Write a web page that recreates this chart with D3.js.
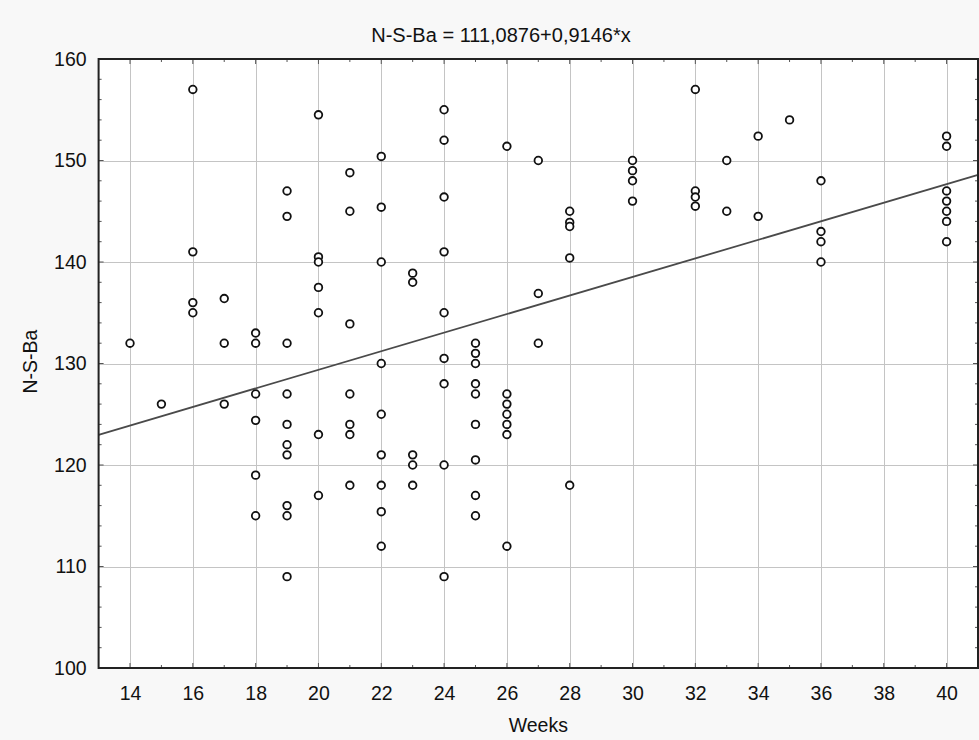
<!DOCTYPE html>
<html>
<head>
<meta charset="utf-8">
<script src="https://cdn.jsdelivr.net/npm/d3@7"></script>
<style>
  html, body { margin: 0; padding: 0; background: #f8f8f8; }
  svg { display: block; }
  text { font-family: "Liberation Sans", Arial, sans-serif; fill: #111; }
</style>
</head>
<body>
<svg id="chart" width="979" height="740"></svg>
<script>
// ---- data ----
const weeks = [
  14,
  15,
  16,16,16,16,
  17,17,17,
  18,18,18,18,18,18,
  19,19,19,19,19,19,19,19,19,19,
  20,20,20,20,20,20,20,
  21,21,21,21,21,21,21,
  22,22,22,22,22,22,22,22,22,
  23,23,23,23,23,
  24,24,24,24,24,24,24,24,24,
  25,25,25,25,25,25,25,25,25,
  26,26,26,26,26,26,26,
  27,27,27,
  28,28,28,28,28,
  30,30,30,30,
  32,32,32,32,
  33,33,
  34,34,
  35,
  36,36,36,36,
  40,40,40,40,40,40,40
];
const nsba = [
  132,
  126,
  157,141,136,135,
  136.4,132,126,
  133,132,127,124.4,119,115,
  147,144.5,132,127,124,122,121,116,115,109,
  154.5,140.5,140,137.5,135,123,117,
  148.8,145,133.9,127,124,123,118,
  150.4,145.4,140,130,125,121,118,115.4,112,
  138.9,138,121,120,118,
  155,152,146.4,141,135,130.5,128,120,109,
  132,131,130,128,127,124,120.5,117,115,
  151.4,127,126,125,124,123,112,
  150,136.9,132,
  145,143.9,143.5,140.4,118,
  150,149,148,146,
  157,147,146.4,145.5,
  150,145,
  152.4,144.5,
  154,
  148,143,142,140,
  152.4,151.4,147,146,145,144,142
];
const intercept = 111.0876;
const slope = 0.9146;
const titleText = "N-S-Ba = 111,0876+0,9146*x";
const xLabel = "Weeks";
const yLabel = "N-S-Ba";
const xDomain = [13, 41];
const yDomain = [100, 160];
const xTickValues = [14,16,18,20,22,24,26,28,30,32,34,36,38,40];
const yTickValues = [100,110,120,130,140,150,160];

// ---- layout ----
const svg = d3.select("#chart");
const L = 98.6, R = 978, T = 59, B = 668;
const x = d3.scaleLinear().domain(xDomain).range([L, R]);
const y = d3.scaleLinear().domain(yDomain).range([B, T]);

// plot background
svg.append("rect").attr("x", L).attr("y", T).attr("width", R - L).attr("height", B - T)
  .attr("fill", "#ffffff");

// grid lines
const grid = svg.append("g").attr("stroke", "#c4c4c4").attr("stroke-width", 1);
grid.selectAll("line.vx").data(xTickValues).join("line")
  .attr("x1", d => Math.round(x(d)) + 0.5).attr("x2", d => Math.round(x(d)) + 0.5)
  .attr("y1", T).attr("y2", B);
grid.selectAll("line.hy").data(yTickValues.filter(d => d > yDomain[0] && d < yDomain[1])).join("line")
  .attr("y1", d => Math.round(y(d)) + 0.5).attr("y2", d => Math.round(y(d)) + 0.5)
  .attr("x1", L).attr("x2", R);

// inner ticks (all four sides)
const ticks = svg.append("g").attr("stroke", "#555").attr("stroke-width", 1);
const xMinor = d3.range(14, 41, 1);
const yMinor = d3.range(102, 160, 2);
ticks.selectAll("line.bt").data(xMinor).join("line")
  .attr("x1", d => x(d)).attr("x2", d => x(d))
  .attr("y1", B).attr("y2", d => B - (d % 2 === 0 ? 5 : 3));
ticks.selectAll("line.tt").data(xMinor).join("line")
  .attr("x1", d => x(d)).attr("x2", d => x(d))
  .attr("y1", T).attr("y2", d => T + (d % 2 === 0 ? 5 : 3));
ticks.selectAll("line.lt").data(yMinor).join("line")
  .attr("y1", d => y(d)).attr("y2", d => y(d))
  .attr("x1", L).attr("x2", d => L + (d % 10 === 0 ? 5 : 3));
ticks.selectAll("line.rt").data(yMinor).join("line")
  .attr("y1", d => y(d)).attr("y2", d => y(d))
  .attr("x1", R).attr("x2", d => R - (d % 10 === 0 ? 5 : 3));

// regression line
const lineGen = d3.line().x(d => x(d)).y(d => y(intercept + slope * d));
svg.append("path").datum(xDomain).attr("d", lineGen)
  .attr("fill", "none").attr("stroke", "#4a4a4a").attr("stroke-width", 1.8);

// points
svg.append("g").selectAll("circle").data(weeks.map((w, i) => [w, nsba[i]])).join("circle")
  .attr("cx", d => x(d[0])).attr("cy", d => y(d[1])).attr("r", 3.8)
  .attr("fill", "#ffffff").attr("stroke", "#111").attr("stroke-width", 1.8);

// frame
svg.append("rect").attr("x", L).attr("y", T).attr("width", R - L).attr("height", B - T)
  .attr("fill", "none").attr("stroke", "#222").attr("stroke-width", 2);

// axes labels via d3 axes (no lines)
const xAxis = d3.axisBottom(x).tickValues(xTickValues).tickSize(0).tickPadding(18)
  .tickFormat(d3.format("d"));
const gx = svg.append("g").attr("transform", `translate(0,${B})`).call(xAxis);
gx.select(".domain").remove();
gx.selectAll("text").attr("font-size", 19.5).attr("font-family", "Liberation Sans, Arial, sans-serif").attr("fill", "#111");

const yAxis = d3.axisLeft(y).tickValues(yTickValues).tickSize(0).tickPadding(12)
  .tickFormat(d3.format("d"));
const gy = svg.append("g").attr("transform", `translate(${L},0)`).call(yAxis);
gy.select(".domain").remove();
gy.selectAll("text").attr("font-size", 19.5).attr("font-family", "Liberation Sans, Arial, sans-serif").attr("fill", "#111");

// title
svg.append("text").attr("x", 501).attr("y", 42).attr("text-anchor", "middle")
  .attr("font-size", 20).text(titleText);
// x label
svg.append("text").attr("x", (L + R) / 2).attr("y", 732).attr("text-anchor", "middle")
  .attr("font-size", 19.5).text(xLabel);
// y label
svg.append("text").attr("transform", `translate(37,${(T + B) / 2 - 2}) rotate(-90)`)
  .attr("text-anchor", "middle").attr("font-size", 19.5).text(yLabel);
</script>
</body>
</html>
